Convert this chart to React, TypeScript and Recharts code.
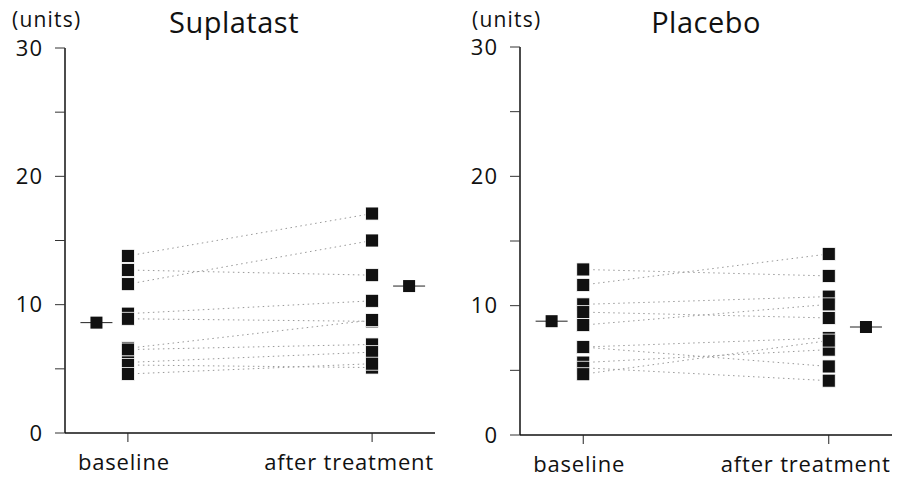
import React from 'react';
import { ComposedChart, Line, Scatter, XAxis, YAxis } from 'recharts';

const categories = ['baseline', 'after treatment'];
const yTicks = [0, 5, 10, 15, 20, 25, 30];
const yTickLabels = ['0', '', '10', '', '20', '', '30'];

// one entry per patient, baseline[i] -> after[i]
const suplatastBaseline = [13.8, 12.7, 11.6, 9.3, 8.9, 6.6, 6.5, 5.5, 5.3, 4.6];
const suplatastAfter = [17.1, 12.3, 15.0, 10.3, 8.7, 8.8, 6.9, 6.3, 5.1, 5.4];
const suplatastMean = [8.6, 11.45];

const placeboBaseline = [12.8, 11.6, 10.1, 9.5, 8.5, 6.8, 6.8, 5.6, 5.2, 4.7];
const placeboAfter = [12.3, 14.0, 10.7, 9.05, 10.1, 7.5, 5.3, 6.6, 4.2, 7.3];
const placeboMean = [8.8, 8.35];

const FONT = '"Open Sans", "DejaVu Sans", sans-serif';
const CAT_X = [17, 83];
const MEAN_X = [8.5, 93];
const LABEL_SHIFT = [-4, -23];

const DataSquare = (props: any) => {
  const { cx, cy } = props;
  return <rect x={cx - 6.5} y={cy - 6.5} width={13} height={13} fill="#111" stroke="#fff" strokeWidth={0.8} />;
};

const MeanMark = (props: any) => {
  const { cx, cy } = props;
  return (
    <g>
      <line x1={cx - 16} x2={cx + 16} y1={cy} y2={cy} stroke="#222" strokeWidth={1} />
      <rect x={cx - 6} y={cy - 6} width={12} height={12} fill="#111" />
    </g>
  );
};

const CategoryTick = (props: any) => {
  const { x, y, payload } = props;
  const i = CAT_X.indexOf(payload.value);
  return (
    <text
      x={x + LABEL_SHIFT[i]}
      y={y}
      dy="0.71em"
      textAnchor="middle"
      fill="#111"
      fontSize={22}
      fontFamily={FONT}
      letterSpacing={0.8}
    >
      {categories[i]}
    </text>
  );
};

interface PanelProps {
  title: string;
  baseline: number[];
  after: number[];
  mean: number[];
  margin: { top: number; right: number; bottom: number; left: number };
  unitsLeft: number;
  titleCenter: number;
}

const Panel: React.FC<PanelProps> = ({ title, baseline, after, mean, margin, unitsLeft, titleCenter }) => {
  const pairs = baseline.map((b, i) => [
    { x: CAT_X[0], y: b },
    { x: CAT_X[1], y: after[i] },
  ]);
  const points = [
    ...baseline.map((y) => ({ x: CAT_X[0], y })),
    ...after.map((y) => ({ x: CAT_X[1], y })),
  ];
  const means = mean.map((y, i) => ({ x: MEAN_X[i], y }));

  return (
    <div style={{ position: 'relative', width: 453, height: 477 }}>
      <ComposedChart width={453} height={477} margin={margin}>
        <XAxis
          type="number"
          dataKey="x"
          domain={[0, 100]}
          ticks={CAT_X}
          height={40}
          tickSize={9}
          tickMargin={12}
          axisLine={{ stroke: '#111', strokeWidth: 1.5 }}
          tickLine={{ stroke: '#222' }}
          tick={<CategoryTick />}
        />
        <YAxis
          type="number"
          dataKey="y"
          domain={[0, 30]}
          ticks={yTicks}
          tickFormatter={(v: number) => yTickLabels[yTicks.indexOf(v)]}
          width={60}
          tickSize={10}
          tickMargin={12}
          axisLine={{ stroke: '#111', strokeWidth: 1.5 }}
          tickLine={{ stroke: '#333' }}
          tick={{ fill: '#111', fontSize: 22, fontFamily: FONT, letterSpacing: 1 }}
        />
        {pairs.map((d, i) => (
          <Line
            key={`pair-${i}`}
            data={d}
            dataKey="y"
            stroke="#999"
            strokeWidth={1}
            strokeDasharray="1.5 3.5"
            dot={false}
            activeDot={false}
            isAnimationActive={false}
          />
        ))}
        <Scatter data={points} dataKey="y" shape={DataSquare} isAnimationActive={false} />
        <Scatter data={means} dataKey="y" shape={MeanMark} isAnimationActive={false} />
      </ComposedChart>
      <div
        style={{
          position: 'absolute',
          left: unitsLeft,
          top: 8,
          fontFamily: FONT,
          fontSize: 21,
          letterSpacing: 1.2,
          color: '#111',
          lineHeight: '22px',
        }}
      >
        (units)
      </div>
      <div
        style={{
          position: 'absolute',
          left: titleCenter - 120,
          width: 240,
          textAlign: 'center',
          top: 4,
          fontFamily: FONT,
          fontSize: 29,
          letterSpacing: 0.5,
          lineHeight: '36px',
          color: '#111',
        }}
      >
        {title}
      </div>
    </div>
  );
}

export default function App() {
  return (
    <div style={{ display: 'flex', width: 906, height: 477, background: '#fff' }}>
      <style>{'body{margin:0}'}</style>
      <Panel
        title="Suplatast"
        baseline={suplatastBaseline}
        after={suplatastAfter}
        mean={suplatastMean}
        margin={{ top: 48, right: 18, bottom: 4, left: 5 }}
        unitsLeft={12}
        titleCenter={234}
      />
      <Panel
        title="Placebo"
        baseline={placeboBaseline}
        after={placeboAfter}
        mean={placeboMean}
        margin={{ top: 47, right: 14, bottom: 2, left: 7 }}
        unitsLeft={19}
        titleCenter={253}
      />
    </div>
  );
}
